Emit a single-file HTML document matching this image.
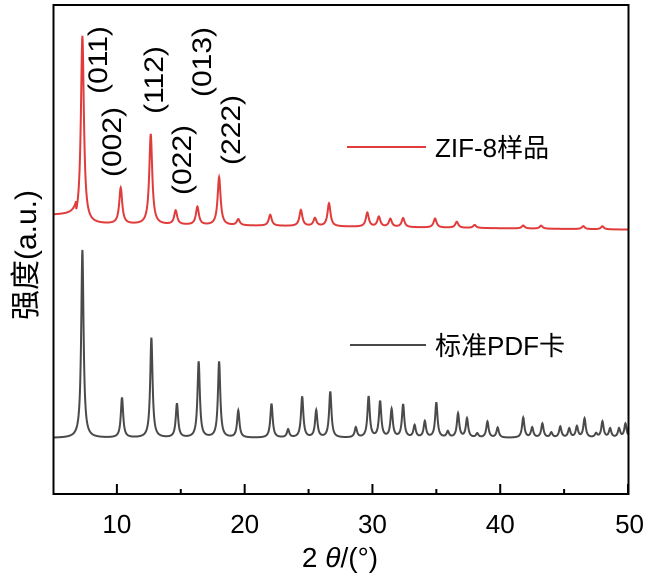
<!DOCTYPE html>
<html><head><meta charset="utf-8"><style>
body{margin:0;background:#fff}
svg{display:block;font-family:"Liberation Sans","Noto Sans CJK SC",sans-serif}
</style></head><body>
<svg id="chart" width="646" height="584" viewBox="0 0 646 584" xmlns="http://www.w3.org/2000/svg">
<g id="plot"></g>
<rect x="53.5" y="5" width="575" height="489" fill="none" stroke="#000" stroke-width="2"/>
<g id="ticks"></g>
<g font-size="30" fill="#000">
<text transform="translate(107,60) rotate(-90) scale(1,0.9)" text-anchor="middle">(011)</text>
<text transform="translate(121,142) rotate(-90) scale(1,0.9)" text-anchor="middle">(002)</text>
<text transform="translate(163,80) rotate(-90) scale(1,0.9)" text-anchor="middle">(112)</text>
<text transform="translate(191,160) rotate(-90) scale(1,0.9)" text-anchor="middle">(022)</text>
<text transform="translate(211,62) rotate(-90) scale(1,0.9)" text-anchor="middle">(013)</text>
<text transform="translate(240,130) rotate(-90) scale(1,0.9)" text-anchor="middle">(222)</text>
</g>
<g>
<line x1="347" y1="147" x2="426" y2="147" stroke="#e03c3c" stroke-width="2"/>
<text x="435" y="157" font-size="26">ZIF-8样品</text>
</g>
<g>
<line x1="350" y1="345" x2="426" y2="345" stroke="#4a4a4a" stroke-width="2"/>
<text x="435" y="355" font-size="26">标准PDF卡</text>
</g>
<text x="340" y="567" font-size="28" text-anchor="middle">2 <tspan font-style="italic">θ</tspan>/(°)</text>
<text transform="translate(36,255) rotate(-90)" font-size="30" text-anchor="middle">强度(a.u.)</text>
</svg>
<script>
const pdfPos=[7.3,10.4,12.7,14.7,16.4,18.0,19.5,22.1,23.4,24.5,25.6,26.7,28.7,29.7,30.6,31.5,32.4,33.3,34.1,35.0,35.9,36.7,37.4,38.2,39.0,39.8,41.8,42.5,43.3,44.0,44.7,45.4,46.0,46.6,47.5,48.0,48.6,49.3,49.8];
const pdfInt=[188,40,100,34,76,76,27,34,8,41,27,46,10,41,36,28,33,12,16,35,6,24,19,4,16,10,20,10,14,5,11,9,11,19,4,16,9,9,14];
const zifPos=[7.3,10.3,12.65,14.6,16.3,18.0,19.5,22.0,24.4,25.5,26.6,29.6,30.5,31.4,32.4,34.9,36.6,38.0,41.8,43.2,46.5,48.0];
const zifInt=[188,36,90,14,18,48,6,11,16,8,23,14,10,8,9,9,6,3,3,3,3,3];
const xTicks=[10,20,30,40,50];
const NS="http://www.w3.org/2000/svg";
const X=v=>53+(v-5)*(575/45);
const plot=document.getElementById('plot');
function curve(pos,inte,w,baseFn){let d='';for(let t=5;t<=50.001;t+=0.02){let y=0;for(let i=0;i<pos.length;i++){const u=(t-pos[i])/w;y+=inte[i]/(1+u*u);}d+=(d?'L':'M')+X(t).toFixed(2)+','+(baseFn(t)-y).toFixed(2);}return d;}
const pdf=document.createElementNS(NS,'path');
pdf.setAttribute('d',curve(pdfPos,pdfInt,0.11,()=>438));
pdf.setAttribute('fill','none');pdf.setAttribute('stroke','#4a4a4a');pdf.setAttribute('stroke-width','2');


plot.appendChild(pdf);
const zif=document.createElementNS(NS,'path');
zif.setAttribute('d',curve(zifPos,zifInt,0.14,t=>t<6.8?215:224+(t-7)*0.13));
zif.setAttribute('fill','none');zif.setAttribute('stroke','#e03c3c');zif.setAttribute('stroke-width','2');


plot.appendChild(zif);
const tg=document.getElementById('ticks');
for(let v=10;v<=50;v+=5){const l=document.createElementNS(NS,'line');const major=v%10===0;l.setAttribute('x1',X(v));l.setAttribute('x2',X(v));l.setAttribute('y1',494);l.setAttribute('y2',major?484:489);l.setAttribute('stroke','#000');l.setAttribute('stroke-width','2');


tg.appendChild(l);}
xTicks.forEach(v=>{const t=document.createElementNS(NS,'text');t.setAttribute('x',X(v));t.setAttribute('y',533);t.setAttribute('font-size','26');t.setAttribute('text-anchor',v===50?'end':'middle');if(v===50)t.setAttribute('x',X(v)+16);t.textContent=v;


tg.appendChild(t);});
</script>
</body></html>
